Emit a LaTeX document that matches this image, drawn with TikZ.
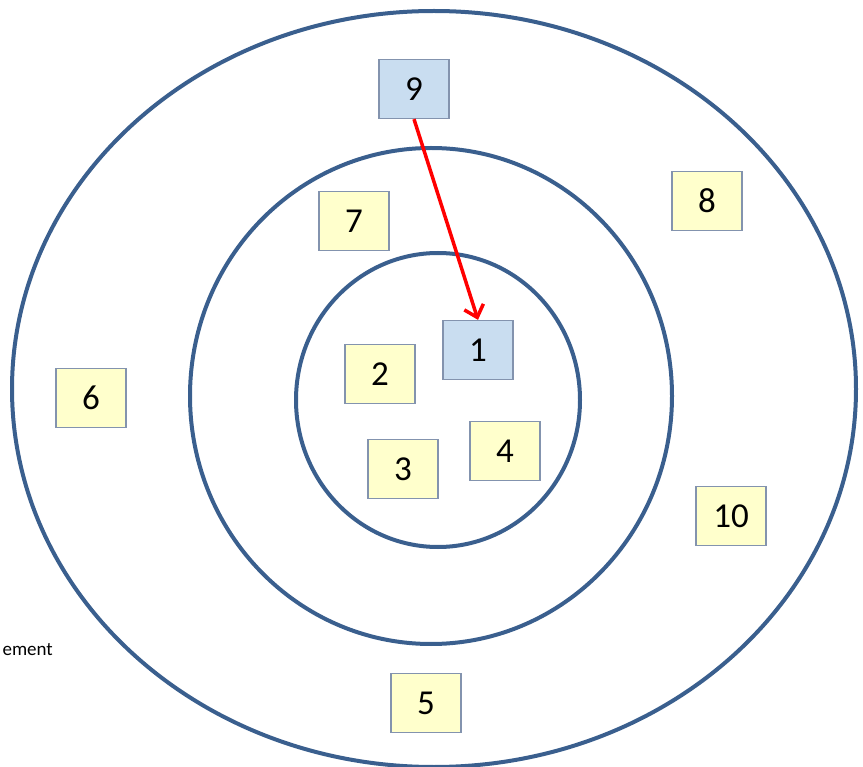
\documentclass[tikz,border=0pt]{standalone}
\usepackage{fontspec}
\setmainfont{Carlito}
\usepackage{xcolor}
\usepackage{tikz}
\usetikzlibrary{arrows.meta}

\definecolor{ringblue}{HTML}{3A5F8E}
\definecolor{boxedge}{HTML}{8393AE}
\definecolor{paleyellow}{HTML}{FFFFCC}
\definecolor{paleblue}{HTML}{C9DDF0}

\begin{document}
\begin{tikzpicture}[x=1pt, y=-1pt,
		ring/.style={draw=ringblue, line width=4pt},
		numbox/.style={draw=boxedge, line width=1.3pt, minimum width=70pt, minimum height=59pt,
			inner sep=0pt, font=\fontsize{35}{40}\selectfont},
		yellowbox/.style={numbox, fill=paleyellow},
		bluebox/.style={numbox, fill=paleblue},
		redarrow/.style={draw=red, line width=3.5pt, -{Straight Barb[length=11pt, width=20pt, line width=3.5pt]}}]
		
		% 1. 画布大小
		\clip (0,0) rectangle (863,767);
		
		% 2. 三个同心椭圆
		\draw[ring] (434,389) ellipse [x radius=422pt, y radius=378pt];
		\draw[ring] (431,396) ellipse [x radius=241pt, y radius=248pt];
		\draw[ring] (438,400) ellipse [x radius=142pt, y radius=147pt];
		
		% 3. 编号方框
		\node[bluebox]   (n1)  at (478,350) {1};
		\node[yellowbox] (n2)  at (380,374) {2};
		\node[yellowbox] (n3)  at (403,469) {3};
		\node[yellowbox] (n4)  at (505,451) {4};
		\node[yellowbox] (n5)  at (426,703) {5};
		\node[yellowbox] (n6)  at (91,398)  {6};
		\node[yellowbox] (n7)  at (354,221) {7};
		\node[yellowbox] (n8)  at (707,201) {8};
		\node[bluebox]   (n9)  at (414,89)  {9};
		\node[yellowbox] (n10) at (731,516) {10};
		
		% 4. 红色箭头 (9 -> 1)
		\draw[redarrow] (n9.south) -- (n1.north);
		
		% 5. 左侧被裁切的文字
		\node[anchor=east, inner sep=0pt, font=\fontsize{19}{22}\selectfont] (lbl) at (53,650) {ement};
		
	\end{tikzpicture}
\end{document}
